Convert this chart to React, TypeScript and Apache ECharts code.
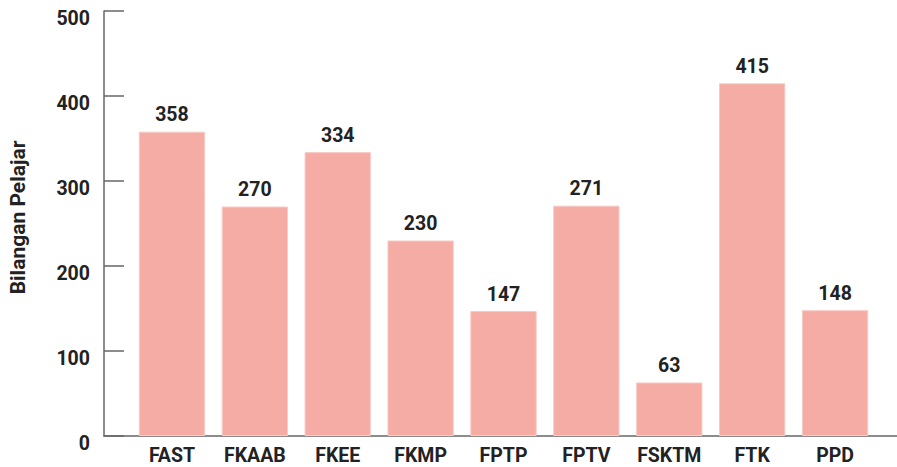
import React, { useEffect, useRef } from "react";
import * as echarts from "echarts";

const categories = ["FAST", "FKAAB", "FKEE", "FKMP", "FPTP", "FPTV", "FSKTM", "FTK", "PPD"];
const values = [358, 270, 334, 230, 147, 271, 63, 415, 148];
const yTicks = [0, 100, 200, 300, 400, 500];

export default function App() {
  const ref = useRef<HTMLDivElement>(null);
  useEffect(() => {
    if (!ref.current) return;
    const chart = echarts.init(ref.current, null, { renderer: "svg" });
    const font = "Roboto, 'Noto Sans', sans-serif";
    chart.setOption({
      animation: false,
      grid: [
        { left: 130.5, right: 20.5, top: 11, bottom: 31, outerBoundsMode: "none", containLabel: false },
        { left: 104, right: 0, top: 11, bottom: 31, outerBoundsMode: "none", containLabel: false },
      ],
      xAxis: [
        {
          type: "category",
          gridIndex: 0,
          data: categories,
          axisLine: { show: false },
          axisTick: { show: false },
          axisLabel: { interval: 0, color: "#222", fontSize: 19.5, fontWeight: "bold", fontFamily: font, margin: 9 },
        },
        {
          type: "value",
          gridIndex: 1,
          min: 0,
          max: 1,
          axisLine: { show: true, lineStyle: { color: "#666", width: 1.5 } },
          axisTick: { show: false },
          axisLabel: { show: false },
          splitLine: { show: false },
        },
      ],
      yAxis: [
        {
          type: "value",
          gridIndex: 0,
          min: yTicks[0],
          max: yTicks[yTicks.length - 1],
          interval: 100,
          offset: 26.5,
          name: "Bilangan Pelajar",
          nameLocation: "middle",
          nameGap: 76,
          nameTextStyle: { color: "#222", fontSize: 21, fontWeight: "bold", fontFamily: font, padding: [0, 0, 0, 12] },
          axisLine: { show: true, lineStyle: { color: "#666", width: 1.5 } },
          axisTick: { show: true, inside: true, length: 20, lineStyle: { color: "#666", width: 1.5 } },
          axisLabel: {
            color: "#222",
            fontSize: 19.5,
            fontWeight: "bold",
            fontFamily: font,
            margin: 14,
            verticalAlign: "top",
            lineHeight: 14,
          },
          splitLine: { show: false },
        },
        {
          type: "value",
          gridIndex: 1,
          min: 0,
          max: 1,
          show: false,
        },
      ],
      series: [
        {
          type: "bar",
          xAxisIndex: 0,
          yAxisIndex: 0,
          data: values,
          barCategoryGap: "20%",
          itemStyle: { color: "#F4ACA5", borderColor: "#F8CAC5", borderWidth: 1 },
          label: {
            show: true,
            position: "top",
            distance: 7,
            color: "#222",
            fontSize: 19.5,
            fontWeight: "bold",
            fontFamily: font,
          },
        },
      ],
    });
    return () => chart.dispose();
  }, []);
  return <div ref={ref} style={{ width: 897, height: 467, position: "absolute", left: 0, top: 0 }} />;
}
